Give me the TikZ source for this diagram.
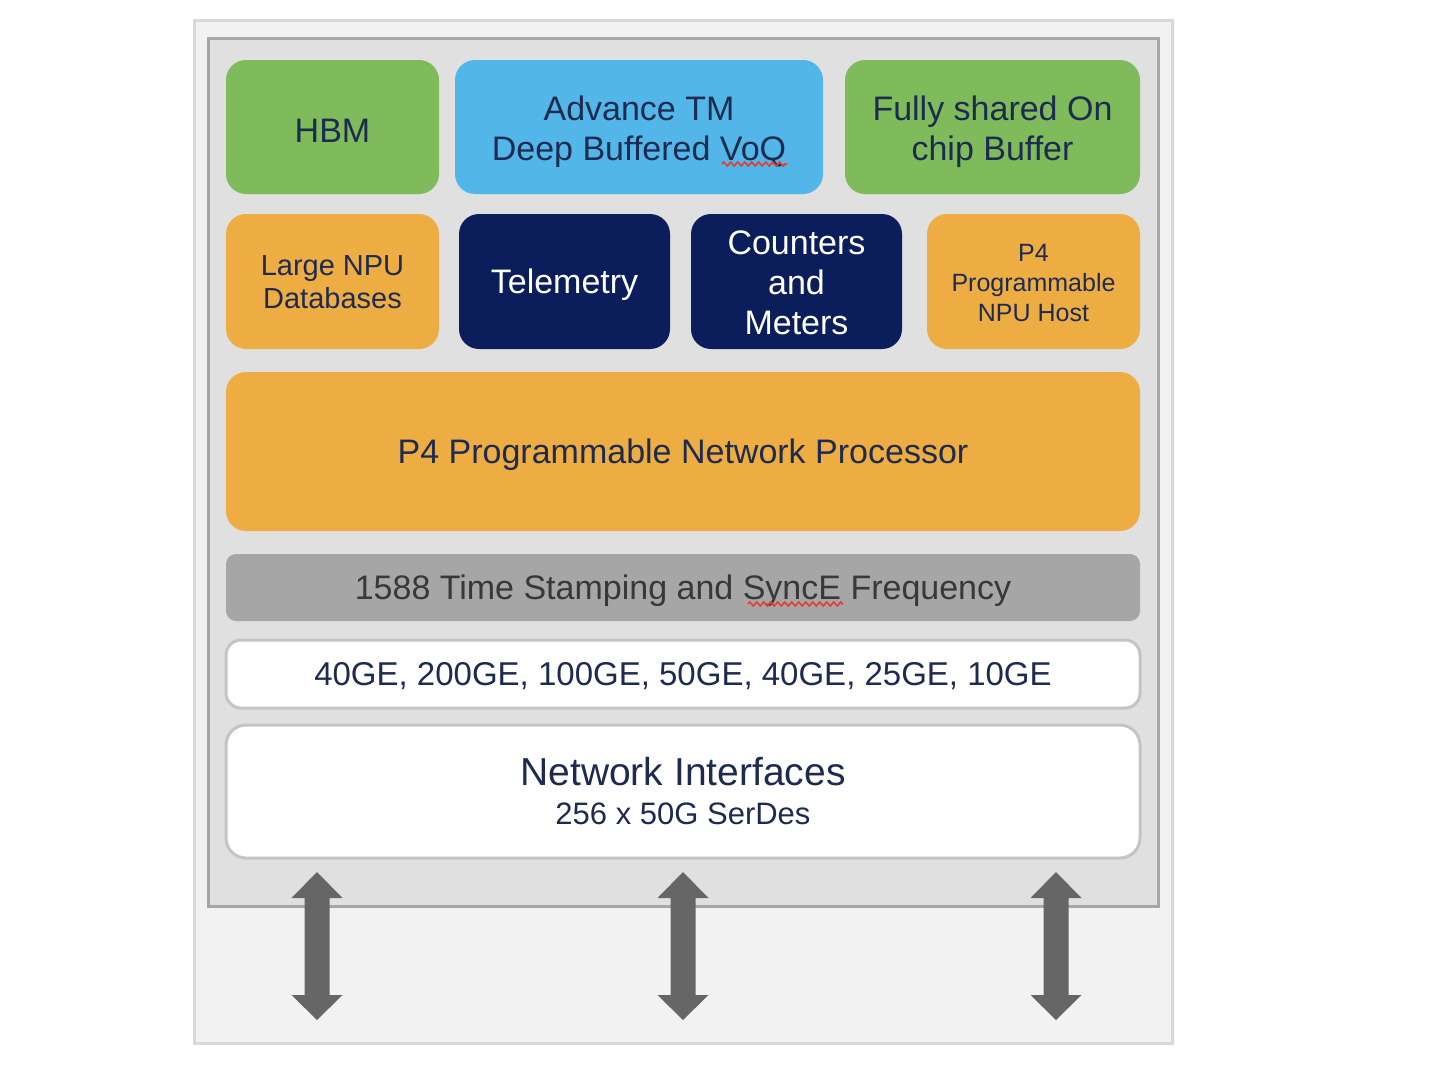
\documentclass[tikz,border=0pt]{standalone}
\usepackage{fontspec}
\setmainfont{Liberation Sans}
\usetikzlibrary{decorations.pathmorphing}
\definecolor{cgreen}{HTML}{7FBB5B}
\definecolor{cblue}{HTML}{52B7E8}
\definecolor{corange}{HTML}{EDAD42}
\definecolor{cnavy}{HTML}{0B1E5B}
\definecolor{cband}{HTML}{A6A6A6}
\definecolor{ctext}{HTML}{1E2B50}
\definecolor{couter}{HTML}{F2F2F2}
\definecolor{couterb}{HTML}{D9D9D9}
\definecolor{cinner}{HTML}{E0E0E0}
\definecolor{cinnerb}{HTML}{A6A6A6}
\definecolor{cwhiteb}{HTML}{C4C4C4}
\definecolor{carrow}{HTML}{666666}
\definecolor{csquig}{HTML}{E0402F}
\begin{document}
\begin{tikzpicture}[x=1pt,y=-1pt,
  blk/.style={rounded corners=20pt, inner sep=0pt, outer sep=0pt},
  lbl/.style={inner sep=0pt, align=center, text=ctext, font=\fontsize{34}{40}\selectfont, yshift=-3pt},
  squig/.style={draw=csquig, line width=1.6pt, decorate, decoration={zigzag, segment length=7pt, amplitude=2pt}}
]
\useasboundingbox (0,0) rectangle (1438,1068);
% outer and inner frames
\node[draw=couterb, fill=couter, line width=3pt, inner sep=0pt, minimum width=978pt, minimum height=1023pt] (outer) at (683,531.5) {};
\node[draw=cinnerb, fill=cinner, line width=3pt, inner sep=0pt, minimum width=950pt, minimum height=868pt] (inner) at (683,472) {};
% row 1
\node[blk, fill=cgreen, minimum width=213pt, minimum height=134pt,
  label={[lbl, yshift=-1pt]center:HBM}] (hbm) at (332.5,127) {};
\node[blk, fill=cblue, minimum width=368pt, minimum height=134pt,
  label={[lbl, yshift=-2pt]center:Advance TM\\Deep Buffered VoQ}] (tm) at (639,127) {};
\node[blk, fill=cgreen, minimum width=295pt, minimum height=134pt,
  label={[lbl, yshift=-2pt]center:Fully shared On\\chip Buffer}] (buf) at (992.5,127) {};
% row 2
\node[blk, fill=corange, minimum width=213pt, minimum height=135pt,
  label={[lbl, yshift=2pt, font=\fontsize{29}{33}\selectfont]center:Large NPU\\Databases}] (npudb) at (332.5,281.5) {};
\node[blk, fill=cnavy, minimum width=211pt, minimum height=135pt,
  label={[lbl, text=white]center:Telemetry}] (tel) at (564.5,281.5) {};
\node[blk, fill=cnavy, minimum width=211pt, minimum height=135pt,
  label={[lbl, text=white, yshift=2pt]center:Counters\\and\\Meters}] (cnt) at (796.5,281.5) {};
\node[blk, fill=corange, minimum width=213pt, minimum height=135pt,
  label={[lbl, yshift=1pt, font=\fontsize{25}{30}\selectfont]center:P4\\Programmable\\NPU Host}] (host) at (1033.5,281.5) {};
% processor
\node[blk, fill=corange, minimum width=914pt, minimum height=159pt,
  label={[lbl]center:P4 Programmable Network Processor}] (npu) at (683,451.5) {};
% 1588 band
\node[blk, rounded corners=10pt, fill=cband, minimum width=914pt, minimum height=67pt,
  label={[lbl, text=black!78]center:1588 Time Stamping and SyncE Frequency}] (sync) at (683,587.5) {};
% speeds
\node[blk, rounded corners=15pt, fill=white, draw=cwhiteb, line width=3pt, minimum width=914pt, minimum height=68pt,
  label={[lbl, yshift=1pt, font=\fontsize{33}{40}\selectfont]center:40GE, 200GE, 100GE, 50GE, 40GE, 25GE, 10GE}] (speeds) at (683,674) {};
% network interfaces
\node[blk, fill=white, draw=cwhiteb, line width=3pt, minimum width=914pt, minimum height=133pt] (ni) at (683,791.5) {};
\node[text=ctext, inner sep=0pt, font=\fontsize{39}{42}\selectfont] (nit) at (683,772) {Network Interfaces};
\node[text=ctext, inner sep=0pt, font=\fontsize{31}{36}\selectfont] (nis) at (683,814) {256 x 50G SerDes};
% spell-check squiggles
\draw[squig] (722,164) -- (787,164);
\draw[squig] (748,604) -- (843,604);
% double arrows
\foreach \ax in {317,683,1056} {
  \fill[carrow] (\ax,872) -- (\ax+25.5,898) -- (\ax+12.5,898) -- (\ax+12.5,995) -- (\ax+25.5,995)
    -- (\ax,1020) -- (\ax-25.5,995) -- (\ax-12.5,995) -- (\ax-12.5,898) -- (\ax-25.5,898) -- cycle;
}
\end{tikzpicture}
\end{document}
